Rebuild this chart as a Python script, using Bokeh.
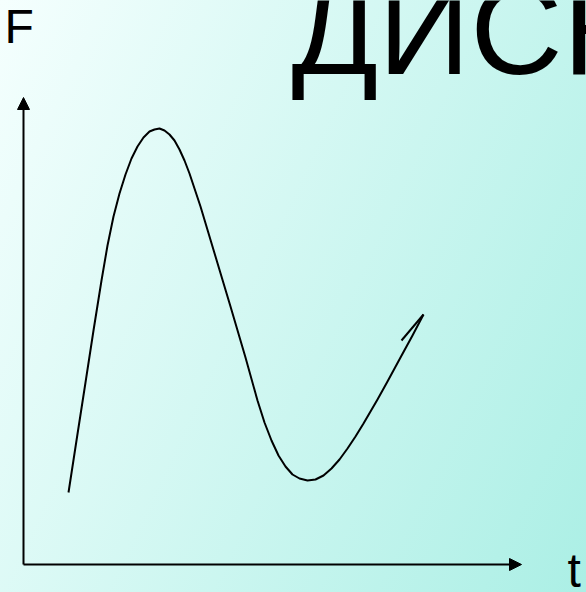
from bokeh.plotting import figure
from bokeh.models import Range1d, Arrow, NormalHead
from bokeh.core.properties import value
from bokeh.embed import file_html
from bokeh.resources import INLINE

# curve (t, F in axis units, origin at the axes corner)
t_vals = [45, 53, 62, 70, 78, 84, 90, 96, 102, 108, 114, 120, 126, 131, 136,
          141, 146, 151, 156, 161, 166, 171, 177, 192, 207, 222, 234, 241, 248, 255,
          262, 269, 276, 284, 292, 300, 308, 316, 324, 332, 340, 347, 354, 364,
          377, 389, 400]
F_vals = [72, 124, 182, 234, 284, 319, 348, 371, 390, 406, 418, 427, 433, 435, 436,
          434, 430, 424, 415, 404, 391, 376, 358, 308, 258, 207, 164, 142, 124, 109,
          98, 90, 86, 84, 85, 89, 96, 105, 116, 128, 141, 153, 165, 183,
          207, 229, 250]
hook_t = [378, 400]
hook_F = [224, 250]

t_axis_end = 498
F_axis_end = 467

title_text = "ДИСК"
x_label = "t"
y_label = "F"

FONT = value("Liberation Sans")

p = figure(width=586, height=592, output_backend="svg", toolbar_location=None,
           x_range=Range1d(-23, 563), y_range=Range1d(-28, 564),
           x_axis_type=None, y_axis_type=None, min_border=0,
           background_fill_alpha=0, border_fill_alpha=0, outline_line_color=None,
           styles={"position": "fixed", "left": "0px", "top": "0px",
                   "background": "linear-gradient(115deg, #F5FFFE 0%, #ABEFE5 100%)"})
p.grid.visible = False

# axes arrows
p.add_layout(Arrow(x_start=0, y_start=0, x_end=0, y_end=F_axis_end,
                   line_color="black", line_width=2,
                   end=NormalHead(size=12, fill_color="black", line_color="black")))
p.add_layout(Arrow(x_start=0, y_start=0, x_end=t_axis_end, y_end=0,
                   line_color="black", line_width=2,
                   end=NormalHead(size=12, fill_color="black", line_color="black")))

p.line(t_vals, F_vals, line_color="black", line_width=2, line_join="round")
p.line(hook_t, hook_F, line_color="black", line_width=2)

p.text(x=[-19], y=[538], text=[y_label], text_font=FONT, text_font_size="48px",
       text_color="black", text_baseline="alphabetic", text_align="left")
p.text(x=[544], y=[-6], text=[x_label], text_font=FONT, text_font_size="48px",
       text_color="black", text_baseline="alphabetic", text_align="left")
p.text(x=[268], y=[535], text=[title_text], text_font=FONT, text_font_size="128px",
       text_color="black", text_baseline="alphabetic", text_align="left")

open("out.html", "w").write(file_html(p, INLINE))
